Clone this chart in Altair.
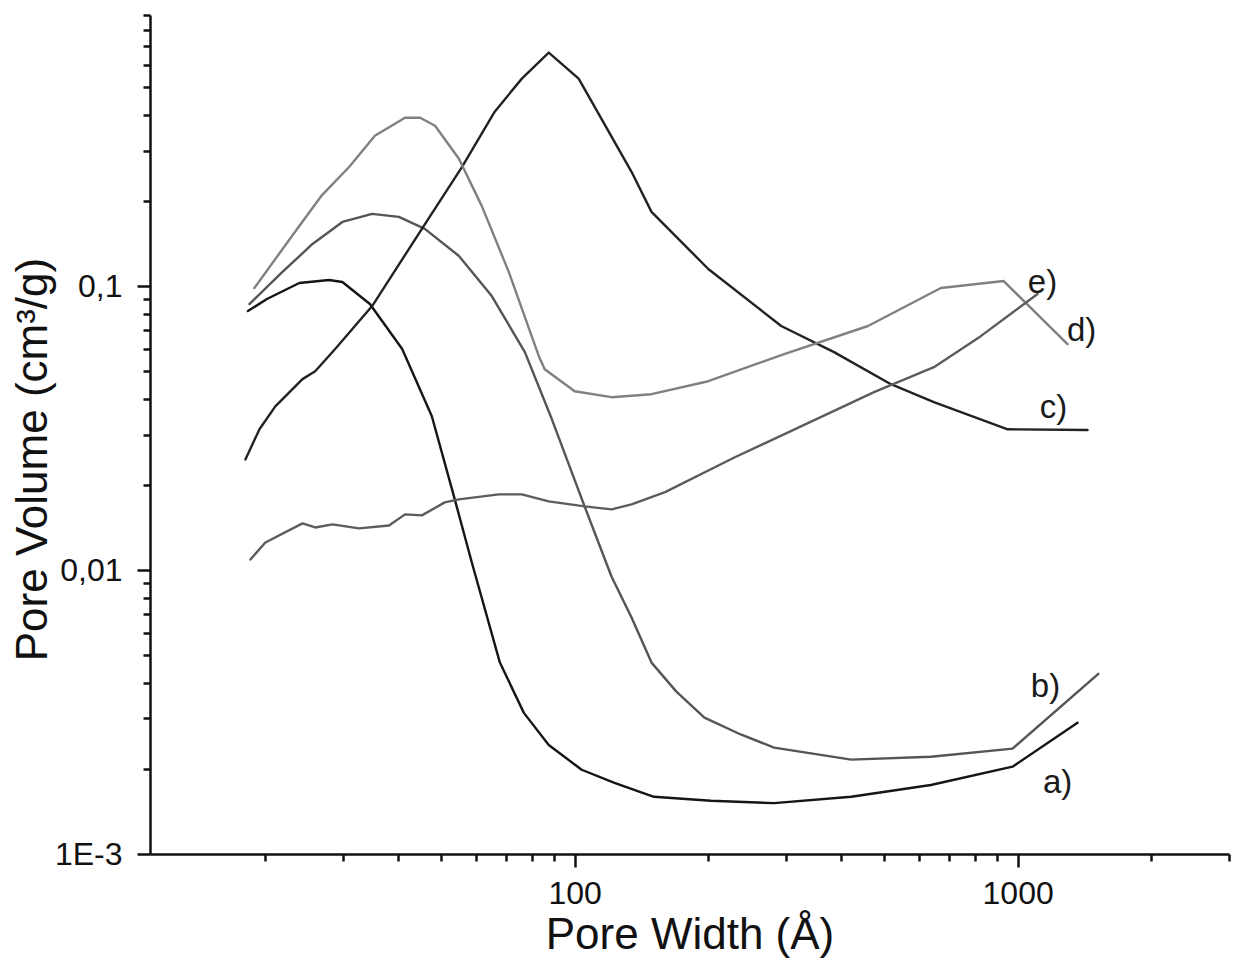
import altair as alt
import pandas as pd

FONT = "Liberation Sans"

# Pore size distributions (pore width in Å, pore volume in cm³/g)
a_width = [18.3, 20.2, 23.9, 27.9, 29.9, 34.5, 40.8, 47.6, 53.4, 58.6, 67.8, 76.8,
           87.4, 103.7, 123, 151, 203, 282, 421, 637, 974, 1365]
a_volume = [0.0816, 0.090, 0.1025, 0.105, 0.1033, 0.0864, 0.060, 0.0348, 0.01816,
            0.01063, 0.00472, 0.00314, 0.00242, 0.00198, 0.00178, 0.00159, 0.00154,
            0.00151, 0.00159, 0.00175, 0.00203, 0.0029]

b_width = [18.44, 21.9, 25.6, 29.9, 34.9, 40.1, 45.9, 54.8, 65.0, 77.2, 88.8, 105.3,
           121.1, 134.4, 149.1, 169.7, 196.3, 237.8, 282, 421, 637, 974, 1521]
b_volume = [0.0864, 0.1121, 0.1406, 0.1681, 0.1795, 0.1751, 0.1589, 0.1276, 0.0922,
            0.0585, 0.034, 0.01675, 0.00949, 0.0068, 0.00472, 0.00373, 0.00302,
            0.00263, 0.00237, 0.00215, 0.0022, 0.00235, 0.00431]

c_width = [18.06, 19.43, 21.1, 24.3, 25.96, 28.8, 34.9, 45.2, 55.7, 66.0, 76.0, 87.4,
           102.1, 134.4, 149.1, 200.3, 292.6, 385.1, 517.6, 647, 949.5, 1438]
c_volume = [0.0245, 0.0313, 0.0377, 0.047, 0.0501, 0.060, 0.085, 0.1589, 0.2629,
            0.4111, 0.5373, 0.6638, 0.5373, 0.2524, 0.1824, 0.1148, 0.0723, 0.0585,
            0.0451, 0.039, 0.0313, 0.0311]

d_width = [18.92, 23.9, 26.9, 31.0, 35.4, 41.4, 44.8, 48.4, 54.8, 61.7, 71.0, 83.0,
           85.6, 100, 121.1, 149.1, 200.3, 297.2, 459.4, 670.9, 930, 1296]
d_volume = [0.0984, 0.1627, 0.209, 0.2629, 0.3381, 0.3914, 0.3914, 0.3667, 0.2805,
            0.1915, 0.1121, 0.0566, 0.0509, 0.0426, 0.0406, 0.0416, 0.0462, 0.0576,
            0.0723, 0.0984, 0.1041, 0.0624]

e_width = [18.54, 20.04, 24.3, 25.96, 28.4, 32.6, 38.1, 41.4, 45.2, 50.9, 54.8, 67.4,
           76.0, 87.4, 105.3, 121.1, 134.4, 160, 229.3, 303.4, 474, 647, 825.5, 1109]
e_volume = [0.01089, 0.0125, 0.01459, 0.01412, 0.01447, 0.01401, 0.01435, 0.0157,
            0.01557, 0.0173, 0.01773, 0.01846, 0.01846, 0.01744, 0.01675, 0.01635,
            0.01702, 0.0188, 0.0249, 0.0305, 0.0423, 0.0518, 0.0666, 0.0937]

series_names = ["a", "b", "c", "d", "e"]
series_colors = ["#151515", "#555555", "#222222", "#808080", "#5c5c5c"]

# Curve labels and where they sit
label_text = ["a)", "b)", "c)", "d)", "e)"]
label_width = [1231, 1156, 1205, 1394, 1138]
label_volume = [0.00178, 0.00388, 0.0371, 0.0694, 0.1025]

# Axis ticks
x_ticks = [20, 30, 40, 50, 60, 70, 80, 90, 100, 200, 300, 400, 500, 600, 700, 800,
           900, 1000, 2000, 3000]
y_ticks = [0.001, 0.002, 0.003, 0.004, 0.005, 0.006, 0.007, 0.008, 0.009,
           0.01, 0.02, 0.03, 0.04, 0.05, 0.06, 0.07, 0.08, 0.09,
           0.1, 0.2, 0.3, 0.4, 0.5, 0.6, 0.7, 0.8, 0.9]

rows = []
for name, ws, vs in zip(series_names,
                        [a_width, b_width, c_width, d_width, e_width],
                        [a_volume, b_volume, c_volume, d_volume, e_volume]):
    for i, (w, v) in enumerate(zip(ws, vs)):
        rows.append({"series": name, "order": i, "width": w, "volume": v})
curves = pd.DataFrame(rows)

labels = pd.DataFrame({"text": label_text, "width": label_width, "volume": label_volume})

x_scale = alt.Scale(type="log", domain=[11, 3000], nice=False)
y_scale = alt.Scale(type="log", domain=[0.001, 0.9], nice=False)

# decades get the long ticks
major = "abs(log(datum.value)/log(10) - round(log(datum.value)/log(10))) < 1e-6"

x_axis = alt.Axis(
    title="Pore Width (Å)",
    values=x_ticks,
    labelExpr="datum.value == 100 ? '100' : datum.value == 1000 ? '1000' : ''",
    tickSize={"condition": {"test": major, "value": 13}, "value": 7},
    labelPadding=36,
    labelBaseline="alphabetic",
    labelOverlap=False,
    labelFlush=False,
    titleY=94,
    titleBaseline="alphabetic",
    grid=False,
)

y_axis = alt.Axis(
    title="Pore Volume (cm³/g)",
    values=y_ticks,
    labelExpr=("abs(datum.value - 0.1) < 1e-9 ? '0,1' : "
               "abs(datum.value - 0.01) < 1e-10 ? '0,01' : "
               "abs(datum.value - 0.001) < 1e-11 ? '1E-3' : ''"),
    tickSize={"condition": {"test": major, "value": 13}, "value": 7},
    labelPadding=15,
    labelOverlap=False,
    labelFlush=False,
    titleX=-104,
    titleY=444,
    titleAngle=-90,
    titleBaseline="alphabetic",
    titleAlign="center",
    grid=False,
)

lines = alt.Chart(curves).mark_line(strokeWidth=2.4, interpolate="linear",
                                    strokeJoin="round", strokeCap="round").encode(
    x=alt.X("width:Q", scale=x_scale, axis=x_axis),
    y=alt.Y("volume:Q", scale=y_scale, axis=y_axis),
    color=alt.Color("series:N", scale=alt.Scale(domain=series_names, range=series_colors), legend=None),
    detail="series:N",
    order="order:Q",
)

texts = alt.Chart(labels).mark_text(font=FONT, fontSize=33, color="#1a1a1a",
                                    align="center", baseline="middle").encode(
    x=alt.X("width:Q", scale=x_scale),
    y=alt.Y("volume:Q", scale=y_scale),
    text="text:N",
)

chart = alt.layer(lines, texts).properties(
    width=1079,
    height=839,
    padding={"left": 150, "top": 15, "right": 6, "bottom": 107},
    autosize=alt.AutoSizeParams(type="none"),
    background="white",
).configure_view(stroke=None).configure_axis(
    domainColor="#111111",
    domainWidth=2.5,
    tickColor="#111111",
    tickWidth=2.5,
    labelFont=FONT,
    labelFontSize=32,
    labelColor="#111111",
    titleFont=FONT,
    titleFontSize=44,
    titleFontWeight="normal",
    titleColor="#111111",
)

chart.save("out.html", embed_options={"renderer": "svg", "actions": False})
